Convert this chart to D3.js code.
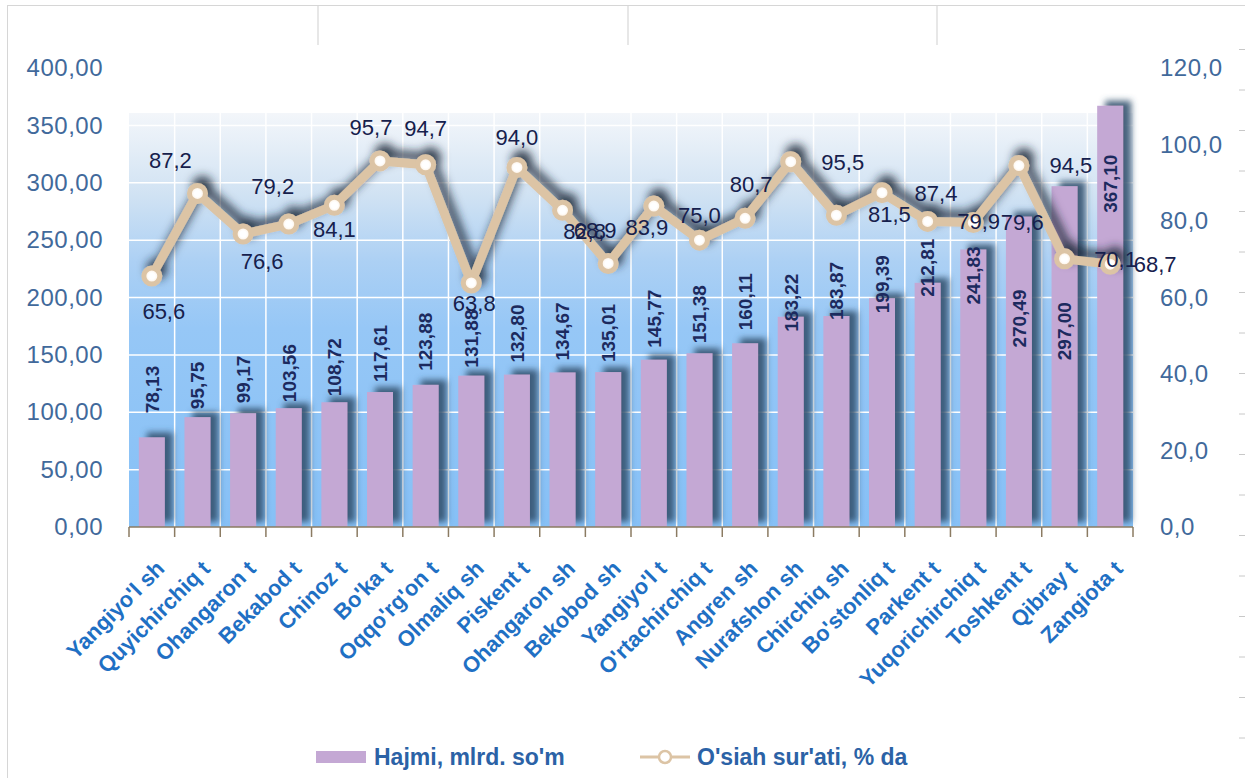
<!DOCTYPE html>
<html>
<head>
<meta charset="utf-8">
<script src="https://cdn.jsdelivr.net/npm/d3@7"></script>
<style>
body { margin: 0; background: #fff; }
svg { display: block; font-family: Arial, "Liberation Sans", sans-serif; }
</style>
</head>
<body>
<svg width="1245" height="778"></svg>
<script>
let districts = ["Yangiyo'l sh", "Quyichirchiq t", "Ohangaron t", "Bekabod t", "Chinoz t", "Bo'ka t",
    "Oqqo'rg'on t", "Olmaliq sh", "Piskent t", "Ohangaron sh", "Bekobod sh", "Yangiyo'l t",
    "O'rtachirchiq t", "Angren sh", "Nurafshon sh", "Chirchiq sh", "Bo'stonliq t", "Parkent t",
    "Yuqorichirchiq t", "Toshkent t", "Qibray t", "Zangiota t"];
let volume = [78.13, 95.75, 99.17, 103.56, 108.72, 117.61, 123.88, 131.88, 132.80, 134.67, 135.01,
    145.77, 151.38, 160.11, 183.22, 183.87, 199.39, 212.81, 241.83, 270.49, 297.00, 367.10];
let growth = [65.6, 87.2, 76.6, 79.2, 84.1, 95.7, 94.7, 63.8, 94.0, 82.8, 68.9,
    83.9, 75.0, 80.7, 95.5, 81.5, 87.4, 79.9, 79.6, 94.5, 70.1, 68.7];
let leftTicks = [0, 50, 100, 150, 200, 250, 300, 350, 400];
let rightTicks = [0, 20, 40, 60, 80, 100, 120];
let legendNames = ["Hajmi, mlrd. so'm", "O'siah sur'ati, % da"];

// hand placed data labels, as in the original sheet (px offsets)
let barLabelNudge = [-24, -8, -10, -6, -6, -10, -14, -8, -12, -12, -10, -12, -10, -13, 15, 4, 15, 14, 55, 131, 174, 107];
let lineLabelNudge = [[12, 35], [-27, -33], [19, 27], [-16, -38], [0, 24], [-9, -34], [0, -37], [3, 20],
    [0, -30], [22, 21], [-13, -33], [-7, 21], [0, -25], [6, -34], [52, 0], [53, -1], [54, 0], [51, 0],
    [49, 0], [52, 0], [51, 0], [45, 0]];

let svg = d3.select("svg");
let uz = d3.formatLocale({decimal: ",", thousands: " ", grouping: [3], currency: ["", ""]});
let f2 = uz.format(".2f"), f1 = uz.format(".1f");

let plotL = 129, plotR = 1133, plotT = 68, plotB = 527;
let x = d3.scaleBand().domain(districts).range([plotL, plotR]);
let yL = d3.scaleLinear().domain([0, 400]).range([plotB, plotT]);
let yR = d3.scaleLinear().domain([0, 120]).range([plotB, plotT]);

let defs = svg.append("defs");
let bg = defs.append("linearGradient").attr("id", "bg").attr("x1", 0).attr("y1", 0).attr("x2", 0).attr("y2", 1);
[[0, "#f3f6fa"], [0.2, "#d0e2f3"], [0.36, "#acd0f4"], [0.52, "#96c7f6"], [1, "#86c0f6"]].forEach(function(s) {
    bg.append("stop").attr("offset", s[0]).attr("stop-color", s[1]);
});
let dot = defs.append("radialGradient").attr("id", "dot");
dot.append("stop").attr("offset", 0.4).attr("stop-color", "#ffffff");
dot.append("stop").attr("offset", 1).attr("stop-color", "#fbe9d4");

function shadow(id, dx, dy, blur, color, op) {
    let f = defs.append("filter").attr("id", id)
        .attr("x", "-20%").attr("y", "-30%").attr("width", "140%").attr("height", "160%");
    f.append("feGaussianBlur").attr("in", "SourceAlpha").attr("stdDeviation", blur);
    f.append("feOffset").attr("dx", dx).attr("dy", dy).attr("result", "o");
    f.append("feFlood").attr("flood-color", color).attr("flood-opacity", op);
    f.append("feComposite").attr("in2", "o").attr("operator", "in");
    let m = f.append("feMerge");
    m.append("feMergeNode");
    m.append("feMergeNode").attr("in", "SourceGraphic");
}
shadow("barShadow", 8, -5, 3, "#34526f", 0.9);
shadow("lineShadow", 5, -7, 5, "#1c2838", 0.85);

// outer frame
svg.append("rect").attr("x", 7.5).attr("y", 5.5).attr("width", 1260).attr("height", 800)
    .attr("fill", "none").attr("stroke", "#d6d6d6");
[318, 628, 937].forEach(function(px) {
    svg.append("line").attr("x1", px).attr("x2", px).attr("y1", 6).attr("y2", 45)
        .attr("stroke", "#cfcfcf");
});
svg.append("g").selectAll("line").data(d3.range(-1, 17)).join("line")
    .attr("x1", 1239).attr("x2", 1245)
    .attr("y1", function(k) { return 90 + 40.5 * k; })
    .attr("y2", function(k) { return 90 + 40.5 * k; })
    .attr("stroke", "#c8c8c8");

// plot background and grid
let gTop = 113;
svg.append("rect").attr("x", plotL).attr("y", gTop).attr("width", plotR - plotL).attr("height", plotB - gTop)
    .attr("fill", "url(#bg)");
svg.append("g").selectAll("line").data(leftTicks.filter(function(t) { return yL(t) > gTop && t > 0; })).join("line")
    .attr("x1", plotL).attr("x2", plotR)
    .attr("y1", function(d) { return yL(d); }).attr("y2", function(d) { return yL(d); })
    .attr("stroke", "#fff").attr("stroke-width", 1.5);
let bounds = d3.range(districts.length + 1).map(function(i) { return plotL + i * x.step(); });
svg.append("g").selectAll("line").data(bounds.slice(1, -1)).join("line")
    .attr("x1", function(d) { return d; }).attr("x2", function(d) { return d; })
    .attr("y1", gTop).attr("y2", plotB)
    .attr("stroke", "#fff").attr("stroke-width", 1.5);

// bars
let bw = 26;
svg.append("g").attr("filter", "url(#barShadow)").selectAll("rect").data(volume).join("rect")
    .attr("x", function(d, i) { return x(districts[i]) + x.bandwidth() / 2 - bw / 2; })
    .attr("y", function(d) { return yL(d); })
    .attr("width", bw)
    .attr("height", function(d) { return plotB - yL(d); })
    .attr("fill", "#c4a8d4");

svg.append("g").selectAll("text").data(volume).join("text")
    .attr("transform", function(d, i) {
        return "translate(" + (x(districts[i]) + x.bandwidth() / 2) + "," + (yL(d) + barLabelNudge[i]) + ") rotate(-90)";
    })
    .attr("dy", "0.36em")
    .attr("font-size", 19).attr("font-weight", "bold").attr("fill", "#1c2a5e")
    .text(function(d) { return f2(d); });

// x axis
svg.append("line").attr("x1", plotL).attr("x2", plotR).attr("y1", plotB).attr("y2", plotB)
    .attr("stroke", "#8b7b62").attr("stroke-width", 1.5);
svg.append("g").selectAll("line").data(bounds).join("line")
    .attr("x1", function(d) { return d; }).attr("x2", function(d) { return d; })
    .attr("y1", plotB).attr("y2", plotB + 10)
    .attr("stroke", "#8b7b62").attr("stroke-width", 1.5);

let xAxis = svg.append("g").attr("transform", "translate(0," + plotB + ")")
    .call(d3.axisBottom(x).tickSize(0).tickPadding(0));
xAxis.select(".domain").remove();
xAxis.selectAll("text")
    .attr("font-family", "Arial, 'Liberation Sans', sans-serif")
    .attr("font-size", 22).attr("font-weight", "bold").attr("fill", "#1f70c4")
    .attr("text-anchor", "end")
    .attr("y", 0).attr("dy", 0)
    .attr("transform", "translate(14,43) rotate(-45)");

// y axes
let la = svg.append("g").attr("transform", "translate(" + plotL + ",0)")
    .call(d3.axisLeft(yL).tickValues(leftTicks).tickFormat(f2).tickSize(0).tickPadding(26));
la.select(".domain").remove();
la.selectAll("text").attr("font-family", "Arial, 'Liberation Sans', sans-serif")
    .attr("font-size", 24).attr("letter-spacing", 0.5).attr("fill", "#41699b");

let ra = svg.append("g").attr("transform", "translate(" + plotR + ",0)")
    .call(d3.axisRight(yR).tickValues(rightTicks).tickFormat(f1).tickSize(0).tickPadding(27));
ra.select(".domain").remove();
ra.selectAll("text").attr("font-family", "Arial, 'Liberation Sans', sans-serif")
    .attr("font-size", 24).attr("letter-spacing", 0.5).attr("fill", "#41699b");

// growth line
let cx = function(i) { return x(districts[i]) + x.bandwidth() / 2; };
let line = d3.line().x(function(d, i) { return cx(i); }).y(function(d) { return yR(d); });
let lg = svg.append("g").attr("filter", "url(#lineShadow)");
lg.append("path").datum(growth).attr("d", line)
    .attr("fill", "none").attr("stroke", "#dcc4a5").attr("stroke-width", 9).attr("stroke-linejoin", "round");
lg.selectAll("circle").data(growth).join("circle")
    .attr("cx", function(d, i) { return cx(i); })
    .attr("cy", function(d) { return yR(d); })
    .attr("r", 8)
    .attr("fill", "url(#dot)").attr("stroke", "#dcc4a5").attr("stroke-width", 5);

svg.append("g").selectAll("text").data(growth).join("text")
    .attr("x", function(d, i) { return cx(i) + lineLabelNudge[i][0]; })
    .attr("y", function(d, i) { return yR(d) + lineLabelNudge[i][1]; })
    .attr("dy", "0.36em").attr("text-anchor", "middle")
    .attr("font-size", 22).attr("fill", "#16204c")
    .text(function(d) { return f1(d); });

// legend
let leg = svg.append("g").attr("transform", "translate(0,757)");
leg.append("rect").attr("x", 316).attr("y", -6).attr("width", 50).attr("height", 12).attr("fill", "#c4a8d4");
leg.append("text").attr("x", 374).attr("dy", "0.36em").attr("font-size", 23).attr("font-weight", "bold")
    .attr("fill", "#2b62a6").text(legendNames[0]);
leg.append("line").attr("x1", 640).attr("x2", 690).attr("stroke", "#dcc4a5").attr("stroke-width", 3);
leg.append("circle").attr("cx", 665).attr("r", 6).attr("fill", "#fff").attr("stroke", "#dcc4a5").attr("stroke-width", 2.5);
leg.append("text").attr("x", 697).attr("dy", "0.36em").attr("font-size", 23).attr("font-weight", "bold")
    .attr("fill", "#2b62a6").text(legendNames[1]);
</script>
</body>
</html>
